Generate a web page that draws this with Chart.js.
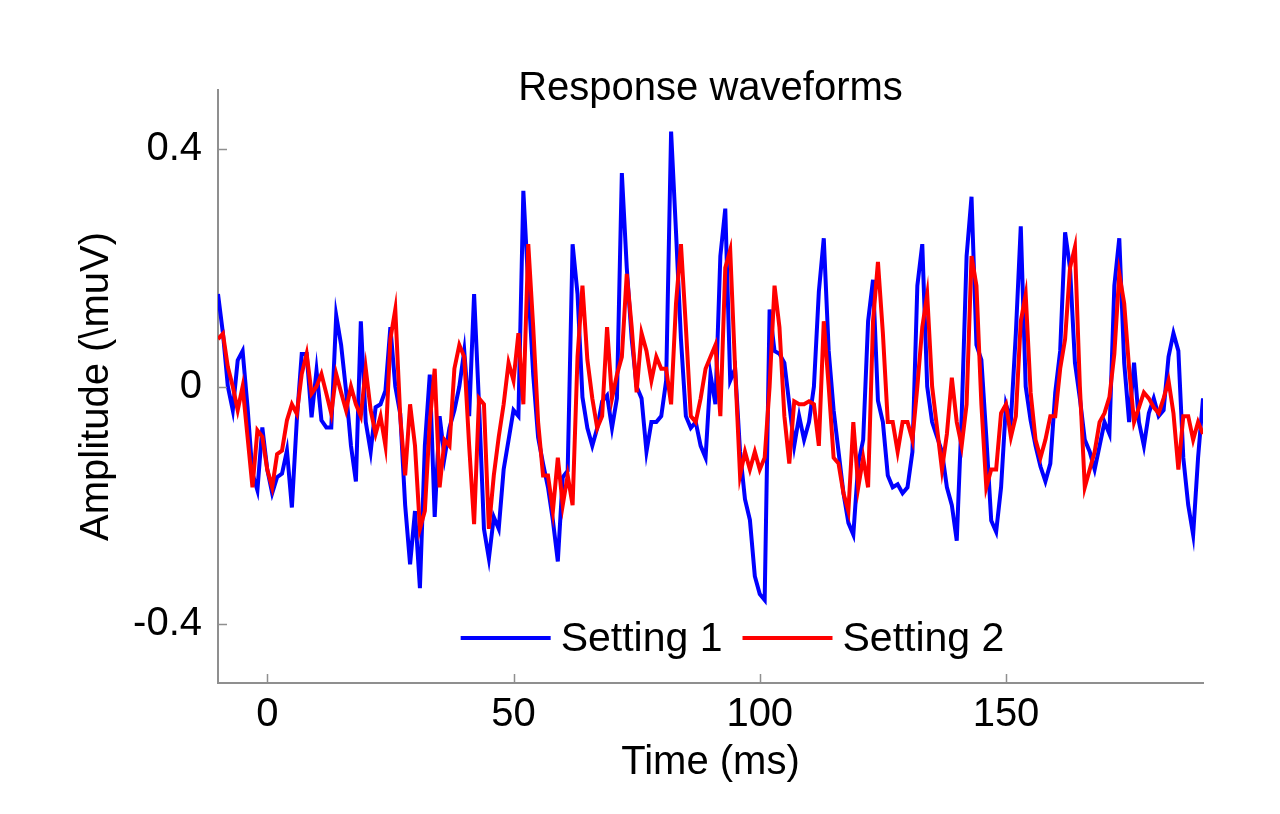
<!DOCTYPE html>
<html lang="en">
<head>
    <meta charset="UTF-8">
    <title>Response waveforms</title>
    <style>
        html, body {
            margin: 0;
            padding: 0;
            background-color: #ffffff;
        }
        .chart-box {
            width: 1280px;
            height: 814px;
        }
    </style>
    <script src="https://cdn.jsdelivr.net/npm/chart.js"></script>
</head>
<body>
    <div class="chart-box">
        <canvas id="waveChart" width="1280" height="814"></canvas>
    </div>

    <script>
        // Time axis (ms), one sample per ms
        const timeMs = [
            -10, -9, -8, -7, -6, -5, -4, -3, -2, -1,
            0, 1, 2, 3, 4, 5, 6, 7, 8, 9,
            10, 11, 12, 13, 14, 15, 16, 17, 18, 19,
            20, 21, 22, 23, 24, 25, 26, 27, 28, 29,
            30, 31, 32, 33, 34, 35, 36, 37, 38, 39,
            40, 41, 42, 43, 44, 45, 46, 47, 48, 49,
            50, 51, 52, 53, 54, 55, 56, 57, 58, 59,
            60, 61, 62, 63, 64, 65, 66, 67, 68, 69,
            70, 71, 72, 73, 74, 75, 76, 77, 78, 79,
            80, 81, 82, 83, 84, 85, 86, 87, 88, 89,
            90, 91, 92, 93, 94, 95, 96, 97, 98, 99,
            100, 101, 102, 103, 104, 105, 106, 107, 108, 109,
            110, 111, 112, 113, 114, 115, 116, 117, 118, 119,
            120, 121, 122, 123, 124, 125, 126, 127, 128, 129,
            130, 131, 132, 133, 134, 135, 136, 137, 138, 139,
            140, 141, 142, 143, 144, 145, 146, 147, 148, 149,
            150, 151, 152, 153, 154, 155, 156, 157, 158, 159,
            160, 161, 162, 163, 164, 165, 166, 167, 168, 169,
            170, 171, 172, 173, 174, 175, 176, 177, 178, 179,
            180, 181, 182, 183, 184, 185, 186, 187, 188, 189,
            190
        ];

        // Setting 1 (blue)
        const setting1 = [
            0.156, 0.09, 0.0, -0.04, 0.044, 0.06, -0.035, -0.147, -0.175, -0.069,
            -0.14, -0.18, -0.153, -0.147, -0.108, -0.204, -0.057, 0.055, 0.055, -0.052,
            0.027, -0.057, -0.069, -0.069, 0.12, 0.07, -0.007, -0.10, -0.16, 0.11,
            -0.06, -0.11, -0.035, -0.03, -0.007, 0.10, 0.0, -0.046, -0.20, -0.30,
            -0.21, -0.34, -0.10, 0.02, -0.22, -0.05, -0.12, -0.07, -0.04, 0.0,
            0.06, -0.05, 0.156, -0.03, -0.24, -0.29, -0.22, -0.24, -0.14, -0.09,
            -0.04, -0.05, 0.33, 0.17, 0.02, -0.086, -0.13, -0.17, -0.226, -0.295,
            -0.153, -0.142, 0.24, 0.156, -0.018, -0.07, -0.10, -0.07, -0.025, -0.015,
            -0.07, -0.02, 0.36, 0.20, 0.08, 0.0, -0.02, -0.11, -0.06, -0.06,
            -0.05, 0.01, 0.43, 0.26, 0.08, -0.05, -0.07, -0.06, -0.10, -0.12,
            0.02, -0.03, 0.22, 0.30, 0.01, 0.03, -0.11, -0.19, -0.225, -0.32,
            -0.35, -0.36, 0.13, 0.06, 0.055, 0.04, -0.03, -0.10, -0.05, -0.09,
            -0.06, 0.0, 0.16, 0.25, 0.06, -0.04, -0.11, -0.18, -0.23, -0.25,
            -0.13, -0.09, 0.11, 0.18, -0.024, -0.06, -0.15, -0.17, -0.165, -0.18,
            -0.17, -0.11, 0.17, 0.24, 0.0, -0.06, -0.085, -0.11, -0.17, -0.20,
            -0.26, -0.05, 0.22, 0.32, 0.07, 0.045, -0.085, -0.226, -0.245, -0.17,
            -0.03, -0.057, 0.09, 0.27, 0.0, -0.057, -0.10, -0.135, -0.16, -0.13,
            -0.01, 0.06, 0.26, 0.20, 0.04, -0.02, -0.09, -0.11, -0.14, -0.10,
            -0.06, -0.08, 0.17, 0.25, 0.04, -0.06, 0.04, -0.06, -0.10, -0.045,
            -0.02, -0.05, -0.04, 0.05, 0.09, 0.06, -0.12, -0.20, -0.25, -0.12,
            -0.02
        ];

        // Setting 2 (red)
        const setting2 = [
            0.08, 0.089, 0.033, 0.0, -0.04, 0.0, -0.085, -0.17, -0.074, -0.085,
            -0.14, -0.17, -0.114, -0.108, -0.057, -0.03, -0.046, 0.021, 0.055, -0.012,
            0.0, 0.021, -0.012, -0.046, 0.021, -0.01, -0.04, 0.0, -0.03, -0.05,
            0.03, -0.04, -0.08, -0.05, -0.10, 0.08, 0.13, -0.05, -0.15, -0.03,
            -0.10, -0.24, -0.21, -0.06, 0.03, -0.17, -0.09, -0.10, 0.03, 0.07,
            0.05, -0.10, -0.232, -0.02, -0.03, -0.24, -0.15, -0.085, -0.03, 0.04,
            0.01, 0.09, -0.03, 0.24, 0.10, -0.06, -0.15, -0.15, -0.21, -0.12,
            -0.20, -0.15, -0.20, 0.05, 0.17, 0.045, -0.02, -0.07, -0.05, 0.10,
            -0.02, 0.02, 0.05, 0.19, 0.10, -0.01, 0.09, 0.06, 0.01, 0.05,
            0.03, 0.03, -0.03, 0.14, 0.24, 0.10, -0.05, -0.06, -0.02, 0.03,
            0.05, 0.07, -0.05, 0.20, 0.23, 0.03, -0.15, -0.11, -0.14, -0.11,
            -0.14, -0.12, 0.0, 0.17, 0.10, -0.05, -0.13, -0.025, -0.03, -0.03,
            -0.025, -0.03, -0.10, 0.11, 0.0, -0.12, -0.13, -0.18, -0.21, -0.06,
            -0.17, -0.12, -0.17, 0.11, 0.21, 0.09, -0.06, -0.06, -0.11, -0.06,
            -0.06, -0.09, 0.0, 0.10, 0.155, 0.0, -0.07, -0.14, -0.08, 0.015,
            -0.06, -0.10, -0.03, 0.22, 0.17, -0.03, -0.17, -0.14, -0.14, -0.045,
            -0.03, -0.085, -0.05, 0.11, 0.155, -0.01, -0.09, -0.12, -0.09, -0.05,
            -0.05, 0.03, 0.08, 0.20, 0.235, 0.0, -0.17, -0.14, -0.11, -0.06,
            -0.045, -0.018, 0.055, 0.19, 0.14, 0.03, -0.06, -0.035, -0.01, -0.02,
            -0.035, -0.045, -0.02, 0.01, -0.045, -0.14, -0.05, -0.05, -0.09, -0.06,
            -0.08
        ];

        const seriesNames = ['Setting 1', 'Setting 2'];
        const xTicks = [0, 50, 100, 150];
        const yTicks = [-0.4, 0, 0.4];

        const FONT = 'Arial, "Liberation Sans", Helvetica, sans-serif';
        const AXIS_GRAY = '#8f8f8f';

        function toPoints(values) {
            return timeMs.map((t, i) => ({ x: t, y: values[i] }));
        }

        // inner tick marks + legend sitting inside the plot, near the bottom
        const innerDecor = {
            id: 'innerDecor',
            afterDraw(chart) {
                const { ctx, chartArea, scales } = chart;
                ctx.save();

                ctx.strokeStyle = AXIS_GRAY;
                ctx.lineWidth = 1.5;
                xTicks.forEach(v => {
                    const px = Math.round(scales.x.getPixelForValue(v)) + 0.5;
                    ctx.beginPath();
                    ctx.moveTo(px, chartArea.bottom);
                    ctx.lineTo(px, chartArea.bottom - 9);
                    ctx.stroke();
                });
                yTicks.forEach(v => {
                    const py = Math.round(scales.y.getPixelForValue(v)) + 0.5;
                    ctx.beginPath();
                    ctx.moveTo(chartArea.left, py);
                    ctx.lineTo(chartArea.left + 9, py);
                    ctx.stroke();
                });

                // legend
                ctx.font = '41px ' + FONT;
                ctx.textBaseline = 'middle';
                ctx.fillStyle = '#000';
                const sampleLen = 90, textGap = 10, itemGap = 20;
                const items = chart.data.datasets.map(ds => ({
                    label: ds.label,
                    color: ds.borderColor,
                    w: ctx.measureText(ds.label).width
                }));
                let total = 0;
                items.forEach((it, i) => { total += sampleLen + textGap + it.w + (i > 0 ? itemGap : 0); });
                const cx = (chartArea.left + chartArea.right) / 2 + 22;
                const ly = chartArea.bottom - 45;
                let x = cx - total / 2;
                items.forEach(it => {
                    ctx.strokeStyle = it.color;
                    ctx.lineWidth = 4;
                    ctx.beginPath();
                    ctx.moveTo(x, ly);
                    ctx.lineTo(x + sampleLen, ly);
                    ctx.stroke();
                    x += sampleLen + textGap;
                    ctx.fillText(it.label, x, ly + 2);
                    x += it.w + itemGap;
                });

                ctx.restore();
            }
        };

        const ctx = document.getElementById('waveChart').getContext('2d');
        new Chart(ctx, {
            type: 'line',
            data: {
                datasets: [
                    {
                        label: seriesNames[0],
                        data: toPoints(setting1),
                        borderColor: '#0000ff',
                        borderWidth: 4,
                        pointRadius: 0,
                        tension: 0,
                        fill: false,
                        order: 2
                    },
                    {
                        label: seriesNames[1],
                        data: toPoints(setting2),
                        borderColor: '#ff0000',
                        borderWidth: 4,
                        pointRadius: 0,
                        tension: 0,
                        fill: false,
                        order: 1
                    }
                ]
            },
            options: {
                responsive: false,
                animation: false,
                devicePixelRatio: 1,
                layout: {
                    padding: { left: 0, right: 77, top: 0, bottom: 0 }
                },
                plugins: {
                    legend: { display: false },
                    tooltip: { enabled: false },
                    title: {
                        display: true,
                        text: 'Response waveforms',
                        fullSize: false,
                        color: '#000',
                        font: { family: FONT, size: 40, weight: 'normal', lineHeight: 1.2 },
                        padding: { top: 65, bottom: -23 }
                    }
                },
                scales: {
                    x: {
                        type: 'linear',
                        min: -10,
                        max: 190,
                        afterBuildTicks: scale => { scale.ticks = xTicks.map(v => ({ value: v })); },
                        afterFit: scale => { scale.height = 131; },
                        grid: { display: false, drawTicks: false },
                        border: { display: true, color: AXIS_GRAY, width: 2 },
                        ticks: {
                            color: '#000',
                            padding: 8,
                            maxRotation: 0,
                            autoSkip: false,
                            font: { family: FONT, size: 40 }
                        },
                        title: {
                            display: true,
                            text: 'Time (ms)',
                            color: '#000',
                            font: { family: FONT, size: 40, lineHeight: 1.2 },
                            padding: { top: 0, bottom: 27 }
                        }
                    },
                    y: {
                        type: 'linear',
                        min: -0.5,
                        max: 0.5,
                        afterBuildTicks: scale => { scale.ticks = yTicks.map(v => ({ value: v })); },
                        afterFit: scale => { scale.width = 218; },
                        grid: { display: false, drawTicks: false },
                        border: { display: true, color: AXIS_GRAY, width: 2 },
                        ticks: {
                            color: '#000',
                            padding: 16,
                            autoSkip: false,
                            font: { family: FONT, size: 40 }
                        },
                        title: {
                            display: true,
                            text: 'Amplitude (\\muV)',
                            color: '#000',
                            font: { family: FONT, size: 40, lineHeight: 1.2 },
                            padding: { top: 73, bottom: 0 }
                        }
                    }
                }
            },
            plugins: [innerDecor]
        });
    </script>
</body>
</html>
